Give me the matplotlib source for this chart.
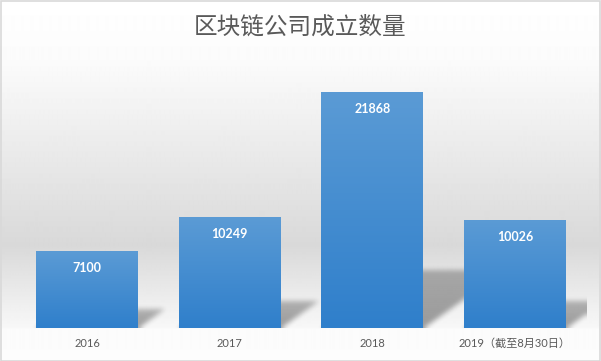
import numpy as np
import matplotlib
matplotlib.use("Agg")
import matplotlib.pyplot as plt
from matplotlib.colors import LinearSegmentedColormap

years = ["2016", "2017", "2018", "2019（截至8月30日）"]
companies = [7100, 10249, 21868, 10026]

W, H = 601, 361
fig = plt.figure(figsize=(W / 100, H / 100), dpi=100)

# background: white at top, grey towards the floor, white below the axis
stops_px = [0, 60, 245, 327, 329, 361]
stops_col = [1.0, 0.985, 0.85, 0.97, 0.985, 0.99]
rows = np.interp(np.arange(H), stops_px, stops_col)
bg = fig.add_axes([0, 0, 1, 1], zorder=0)
bg.imshow(np.repeat(rows[:, None], 2, axis=1), cmap="gray", vmin=0, vmax=1,
          aspect="auto", extent=[0, 1, 0, 1], interpolation="bilinear")
bg.axis("off")

left, right = 15.7 / W, 586.3 / W
bottom, top = (H - 328) / H, (H - 58) / H
ax = fig.add_axes([left, bottom, right - left, top - bottom], zorder=1)
ax.patch.set_alpha(0)

ymax = 25000
x = np.arange(len(years))
bw = 0.715
bars = ax.bar(x, companies, width=bw, color="#4a8fd2", zorder=3)

# gradient fill on every bar
blue = LinearSegmentedColormap.from_list("b", ["#2f7fcb", "#5b9bd5"])
grad = np.linspace(0, 1, 256)[:, None]
for b in bars:
    x0, h = b.get_x(), b.get_height()
    im = ax.imshow(grad, cmap=blue, origin="lower", aspect="auto",
                   extent=[x0, x0 + bw, 0, h], zorder=3.5)
    im.set_clip_path(b)

# soft skewed floor shadows behind the bars
nx = int(round((right - left) * W))
ny = int(round((top - bottom) * H))
kx = nx / 4.0
ky = ny / ymax
px = (np.arange(nx) + 0.5) / kx - 0.5
py = (np.arange(ny) + 0.5) / ky
XX, YY = np.meshgrid(px, py)
mask = np.zeros((ny, nx))
for b in bars:
    x0, h = b.get_x(), b.get_height()
    hs = 0.245 * h
    dx = 1.4 * hs * ky / kx
    shift = dx * YY / hs
    inside = (YY <= hs) & (XX >= x0 + shift) & (XX <= x0 + bw + shift)
    fade = 1 - 0.3 * np.clip(YY / hs, 0, 1)
    mask = np.maximum(mask, inside * fade)


def box_blur(a, r, axis):
    pad = [(0, 0), (0, 0)]
    pad[axis] = (r, r)
    c = np.cumsum(np.pad(a, pad, mode="edge"), axis=axis)
    c = np.concatenate([np.zeros_like(np.take(c, [0], axis=axis)), c], axis=axis)
    n = a.shape[axis]
    return (np.take(c, np.arange(2 * r + 1, n + 2 * r + 1), axis=axis)
            - np.take(c, np.arange(0, n), axis=axis)) / (2 * r + 1)


for _ in range(3):
    mask = box_blur(mask, 2, 0)
    mask = box_blur(mask, 2, 1)
rgba = np.zeros((ny, nx, 4))
rgba[..., 3] = mask * 0.38
ax.imshow(rgba, origin="lower", aspect="auto", extent=[-0.5, 3.5, 0, ymax],
          zorder=2, interpolation="bilinear")

for xi, v in zip(x, companies):
    ax.annotate(str(v), (xi, v), xytext=(0, -8), textcoords="offset points",
                ha="center", va="top", color="white", fontsize=9,
                fontweight="bold", family=["Lato", "Noto Sans CJK SC"], zorder=5)

ax.set_xlim(-0.5, 3.5)
ax.set_ylim(0, ymax)
ax.set_xticks(x)
ax.set_xticklabels(years, fontsize=8, color="#595959",
                   family=["Lato", "Noto Sans CJK SC"])
ax.tick_params(axis="x", length=0, pad=7)
ax.set_yticks([])
for s in ax.spines.values():
    s.set_visible(False)

fig.text(0.5, 1 - 27.5 / H, "区块链公司成立数量", ha="center", va="center",
         fontsize=17, color="#595959", family=["Noto Sans CJK SC", "DejaVu Sans"])

fig.patches.append(plt.Rectangle((0.5 / W, 0.5 / H), 1 - 1.5 / W, 1 - 1.5 / H,
                                 transform=fig.transFigure, fill=False,
                                 edgecolor="#d9d9d9", linewidth=1.2, zorder=10))

fig.savefig("out.png", dpi=100)
